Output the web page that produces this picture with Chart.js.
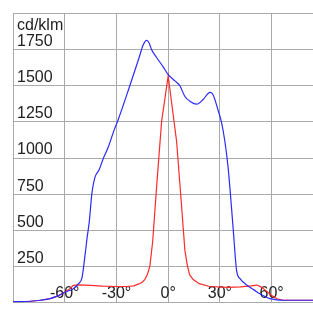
<!DOCTYPE html>
<html>
<head>
<meta charset="utf-8">
<script src="https://cdn.jsdelivr.net/npm/chart.js@4"></script>
<style>
  body { margin: 0; background: #fff; }
  #wrap { width: 313px; height: 316px; }
</style>
</head>
<body>
<div id="wrap"><canvas id="lightChart" width="313" height="316"></canvas></div>
<script>
// C0-C180 plane (blue) and C90-C270 plane (red), angle in degrees
const blueAngles = [-90, -80, -74, -68, -64, -60, -55, -52, -50, -48.5, -47, -45.8, -44.2, -42.5, -40, -37.7, -34.9, -31, -29, -22.2, -17, -14.5, -12.5, -11, -9.6, -6.7, -2.9, 0, 3.9, 6.8, 9.7, 13, 16.5, 20.3, 23, 24.5, 26.1, 29, 31, 32.9, 34.8, 37.7, 39.7, 42, 45.5, 50, 53.2, 59, 63, 67, 84];
const blueValues = [5, 8, 15, 28, 45, 70, 95, 130, 170, 300, 450, 554, 760, 866, 920, 995, 1071, 1205, 1265, 1502, 1690, 1782, 1814, 1795, 1749, 1696, 1631, 1577, 1534, 1500, 1426, 1390, 1373, 1405, 1445, 1454, 1437, 1329, 1244, 1114, 930, 511, 220, 160, 120, 85, 60, 26, 18, 15, 15];

const redAngles = [-90, -80, -74, -68, -64, -60, -57, -55, -52, -45, -38, -30, -24, -20, -17, -15, -13.5, -12, -10.6, -9, -6.7, -3.8, 0, 4.9, 7.8, 9.7, 11.2, 12.5, 14.5, 18, 24, 35, 42, 48, 51.5, 54, 57, 60, 63, 66.7, 84];
const redValues = [5, 8, 15, 28, 45, 70, 95, 118, 122, 118, 113, 110, 110, 115, 128, 140, 160, 195, 253, 420, 802, 1254, 1568, 1114, 662, 360, 250, 190, 158, 130, 110, 104, 107, 114, 120, 106, 78, 48, 25, 15, 15];

const xTickValues = [-60, -30, 0, 30, 60];
const unitLabel = "cd/klm";
const FONT = "16px 'Liberation Sans', Arial, sans-serif";

const toPoints = (xs, ys) => xs.map((x, i) => ({ x: x, y: ys[i] }));

// axis texts sit inside the plot, so they are drawn from the scales here
const insideLabels = {
  id: "insideLabels",
  beforeDatasetsDraw(chart) {
    const ctx = chart.ctx;
    const xs = chart.scales.x;
    const ys = chart.scales.y;
    ctx.save();
    ctx.font = FONT;
    ctx.fillStyle = "#222";
    ctx.textBaseline = "alphabetic";
    ctx.textAlign = "center";
    xTickValues.forEach((v) => {
      ctx.fillText(v + "°", xs.getPixelForValue(v), ys.getPixelForValue(0) - 4.5);
    });
    ctx.textAlign = "left";
    ctx.fillText(unitLabel, chart.chartArea.left + 4, ys.getPixelForValue(2000) + 16);
    ctx.restore();
  },
};

new Chart(document.getElementById("lightChart"), {
  type: "line",
  data: {
    datasets: [
      {
        data: toPoints(blueAngles, blueValues),
        borderColor: "#2a2aff",
        borderWidth: 1.2,
        pointRadius: 0,
        fill: false,
        cubicInterpolationMode: "monotone",
      },
      {
        data: toPoints(redAngles, redValues),
        borderColor: "#ff2a2a",
        borderWidth: 1.2,
        pointRadius: 0,
        fill: false,
        tension: 0,
      },
    ],
  },
  options: {
    responsive: false,
    animation: false,
    layout: { padding: { left: 13, top: 6, right: 0, bottom: 0 } },
    plugins: { legend: { display: false }, tooltip: { enabled: false } },
    scales: {
      x: {
        type: "linear",
        min: -90,
        max: 84,
        border: { display: false },
        grid: { color: "#aaa", lineWidth: 1, drawTicks: false },
        ticks: { stepSize: 30, includeBounds: false, display: false },
        afterFit: (s) => { s.height = 0; },
      },
      y: {
        min: 0,
        max: 2000,
        border: { display: false },
        grid: { color: "#aaa", lineWidth: 1, drawTicks: false },
        ticks: {
          stepSize: 250,
          mirror: true,
          padding: 4,
          labelOffset: -8,
          color: "#222",
          font: { family: "'Liberation Sans', Arial, sans-serif", size: 16 },
          callback: (v) => (v === 0 || v === 2000 ? "" : v),
        },
        afterFit: (s) => { s.width = 0; },
      },
    },
  },
  plugins: [insideLabels],
});
</script>
</body>
</html>
